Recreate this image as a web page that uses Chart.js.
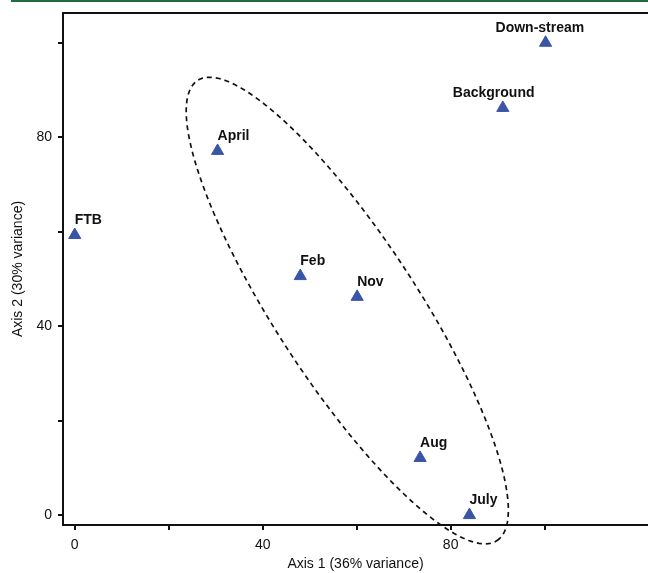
<!DOCTYPE html>
<html>
<head>
<meta charset="utf-8">
<script src="https://cdn.jsdelivr.net/npm/chart.js@4/dist/chart.umd.min.js"></script>
<style>
  html, body { margin: 0; padding: 0; background: #ffffff; }
  #wrap { position: relative; width: 648px; height: 573px; }
</style>
</head>
<body>
<div id="wrap"><canvas id="c" width="648" height="573"></canvas></div>
<script>
// ---- data ----
const siteLabels = ['FTB', 'April', 'Feb', 'Nov', 'Aug', 'July', 'Background', 'Down-stream'];
const axis1Values = [0, 30.4, 48, 60.1, 73.5, 84, 91.1, 100.2];
const axis2Values = [59.3, 77.1, 50.6, 46.2, 12.1, 0, 86.2, 100];
const tickValues = [0, 20, 40, 60, 80, 100];
const labelledTicks = [0, 40, 80];
// grouping ellipse (data units): centre, semi-axes, rotation (deg)
const ellipseCentre = [58.0, 43.3];
const ellipseRadii = [58.2, 15.1];
const ellipseAngle = -56.8;

const FONT = "Arial, 'Liberation Sans', Helvetica, sans-serif";
const labelShift = { 'Background': -50, 'Down-stream': -50 };

const points = siteLabels.map((l, i) => ({ x: axis1Values[i], y: axis2Values[i], label: l }));

const decorPlugin = {
  id: 'decor',
  beforeDraw(chart) {
    const ctx = chart.ctx;
    ctx.save();
    ctx.fillStyle = '#ffffff';
    ctx.fillRect(0, 0, chart.width, chart.height);
    ctx.fillStyle = '#1f6a3f';
    ctx.fillRect(11, 0, chart.width - 11, 2);
    ctx.restore();
  },
  afterDraw(chart) {
    const ctx = chart.ctx;
    const xs = chart.scales.x, ys = chart.scales.y;
    const area = chart.chartArea;
    ctx.save();
    // top frame line
    ctx.strokeStyle = '#111';
    ctx.lineWidth = 2;
    ctx.beginPath();
    ctx.moveTo(area.left - 1, area.top);
    ctx.lineTo(chart.width, area.top);
    ctx.stroke();
    // point labels
    ctx.fillStyle = '#111';
    ctx.font = 'bold 14px ' + FONT;
    ctx.textAlign = 'left';
    ctx.textBaseline = 'alphabetic';
    points.forEach(p => {
      const px = xs.getPixelForValue(p.x) + (labelShift[p.label] || 0);
      const py = ys.getPixelForValue(p.y) - 11;
      ctx.fillText(p.label, px, py);
    });
    // dashed ellipse
    const phi = ellipseAngle * Math.PI / 180;
    ctx.strokeStyle = '#111';
    ctx.lineWidth = 1.7;
    ctx.setLineDash([5, 4]);
    ctx.beginPath();
    const N = 240;
    for (let k = 0; k <= N; k++) {
      const t = 2 * Math.PI * k / N;
      const dx = ellipseRadii[0] * Math.cos(t), dy = ellipseRadii[1] * Math.sin(t);
      const vx = ellipseCentre[0] + dx * Math.cos(phi) - dy * Math.sin(phi);
      const vy = ellipseCentre[1] + dx * Math.sin(phi) + dy * Math.cos(phi);
      const X = xs.getPixelForValue(vx), Y = ys.getPixelForValue(vy);
      if (k === 0) ctx.moveTo(X, Y); else ctx.lineTo(X, Y);
    }
    ctx.closePath();
    ctx.stroke();
    ctx.restore();
  }
};

const tickCb = v => labelledTicks.includes(v) ? String(v) : '';

new Chart(document.getElementById('c'), {
  type: 'scatter',
  data: {
    datasets: [{
      data: points,
      pointStyle: 'triangle',
      pointRadius: 7,
      pointHoverRadius: 7,
      backgroundColor: '#3a54a6',
      borderColor: '#3a54a6',
      borderWidth: 1
    }]
  },
  options: {
    responsive: false,
    animation: false,
    events: [],
    layout: { autoPadding: false, padding: { top: 13, right: 0, left: 0, bottom: 0 } },
    plugins: { legend: { display: false }, tooltip: { enabled: false } },
    scales: {
      x: {
        type: 'linear',
        min: -2.5,
        max: 122,
        afterBuildTicks: s => { s.ticks = tickValues.map(v => ({ value: v })); },
        afterFit: s => { s.height = 48; s.paddingLeft = 0; s.paddingRight = 0; },
        grid: { display: true, drawOnChartArea: false, drawTicks: true, tickLength: 5, color: '#111', lineWidth: 2 },
        border: { display: true, color: '#111', width: 2 },
        ticks: { callback: tickCb, color: '#111', font: { size: 14, family: FONT }, padding: 7, maxRotation: 0, autoSkip: false },
        title: { display: true, text: 'Axis 1 (36% variance)', color: '#111', font: { size: 14, family: FONT }, padding: { top: 0, bottom: 0 } }
      },
      y: {
        type: 'linear',
        min: -2.1,
        max: 106.3,
        afterBuildTicks: s => { s.ticks = tickValues.map(v => ({ value: v })); },
        afterFit: s => { s.width = 63; s.paddingTop = 0; s.paddingBottom = 0; },
        grid: { display: true, drawOnChartArea: false, drawTicks: true, tickLength: 5, color: '#111', lineWidth: 2 },
        border: { display: true, color: '#111', width: 2 },
        ticks: { callback: tickCb, color: '#111', font: { size: 14, family: FONT }, padding: 6, autoSkip: false },
        title: { display: true, text: 'Axis 2 (30% variance)', color: '#111', font: { size: 14, family: FONT }, padding: { top: 10, bottom: 0 } }
      }
    }
  },
  plugins: [decorPlugin]
});
</script>
</body>
</html>
